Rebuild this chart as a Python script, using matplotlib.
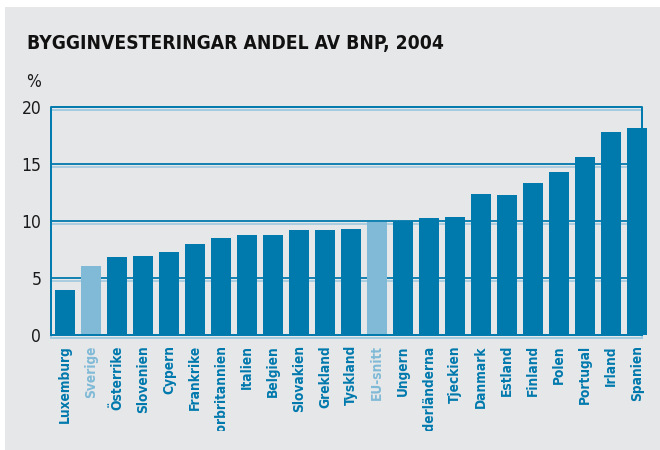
import matplotlib
matplotlib.use('Agg')
import matplotlib.pyplot as plt
import matplotlib.patheffects as pe
from matplotlib.patches import Rectangle
from matplotlib.transforms import Bbox

# Data
countries = ['Luxemburg', 'Sverige', 'Österrike', 'Slovenien', 'Cypern', 'Frankrike',
             'Storbritannien', 'Italien', 'Belgien', 'Slovakien', 'Grekland', 'Tyskland',
             'EU-snitt', 'Ungern', 'Nederländerna', 'Tjeckien', 'Danmark', 'Estland',
             'Finland', 'Polen', 'Portugal', 'Irland', 'Spanien']
share = [4.0, 6.1, 6.9, 7.0, 7.3, 8.0, 8.5, 8.8, 8.8, 9.2, 9.2, 9.3,
         9.9, 10.0, 10.3, 10.4, 12.4, 12.3, 13.4, 14.3, 15.6, 17.8, 18.2]
highlight = ['Sverige', 'EU-snitt']
yticks = [0, 5, 10, 15, 20]

dark = '#0079ad'
light = '#80bad6'
shadow = '#a4cbe0'
bg = '#e6e7e9'

plt.rcParams['font.family'] = ['DejaVu Sans']
plt.rcParams['font.stretch'] = 'condensed'

fig = plt.figure(figsize=(6.6, 4.5), dpi=100, facecolor='white')
fig.patches.append(Rectangle((5 / 660, 0), 1, 1 - 7 / 450, transform=fig.transFigure,
                             facecolor=bg, edgecolor='none', zorder=-10))

ax = fig.add_axes([51 / 660, (450 - 335.3) / 450, (642 - 51) / 660, (335.3 - 107.3) / 450])
ax.set_facecolor('none')

colors = [light if c in highlight else dark for c in countries]
x = range(len(countries))
ax.bar(x, share, width=0.77, color=colors, zorder=3, clip_on=False)

ax.set_xlim(-0.54, 22.19)
ax.set_ylim(0, 20)

# grid lines with a pale shadow under them
line_fx = [pe.SimpleLineShadow(offset=(0, -1.6), shadow_color=shadow, alpha=1), pe.Normal()]
for v in [5, 10, 15]:
    ax.axhline(v, color=dark, lw=1.3, zorder=1, path_effects=line_fx)

for s in ax.spines.values():
    s.set_visible(False)
ax.plot([0, 0, 1, 1], [0, 1, 1, 0], transform=ax.transAxes, color=dark, lw=1.4,
        zorder=2, clip_on=False, path_effects=line_fx)
ax.plot([0, 1], [0, 0], transform=ax.transAxes, color=dark, lw=1.4,
        zorder=4, clip_on=False, path_effects=line_fx)

ax.set_yticks(yticks)
ax.set_yticklabels([str(t) for t in yticks], fontsize=12.5, color='#1a1a1a')
ax.tick_params(axis='y', length=0, pad=7)

ax.set_xticks(list(x))
ax.set_xticklabels(countries, rotation=90, fontsize=9.8, fontweight='bold', va='top')
ax.tick_params(axis='x', length=0, pad=7)
# long names are cut at the bottom edge, as in the printed original
clip = Bbox.from_extents(0, 19, 660, 450)
for lab, c in zip(ax.get_xticklabels(), colors):
    lab.set_color(c)
    lab.set_clip_box(clip)
    lab.set_clip_on(True)

fig.text(27 / 660, 1 - 48.5 / 450, 'BYGGINVESTERINGAR ANDEL AV BNP, 2004',
         fontsize=13.8, fontweight='bold', color='#111111', va='baseline')
fig.text(26 / 660, 1 - 87 / 450, '%', fontsize=12.5, color='#1a1a1a', va='baseline')

fig.savefig('out.png', dpi=100, facecolor='white')
